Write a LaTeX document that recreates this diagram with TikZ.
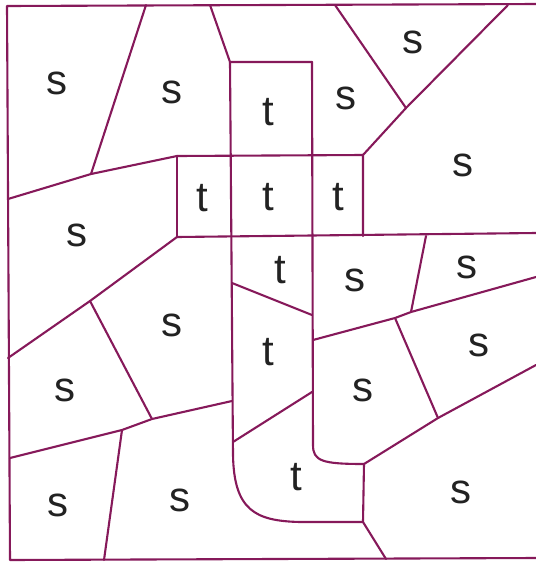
\documentclass[tikz,border=0pt]{standalone}
\usepackage{fontspec}
\setsansfont{Liberation Sans}
\definecolor{Bordo}{HTML}{86195A}
\definecolor{Testo}{HTML}{222222}
\tikzset{
    confine/.style={draw=Bordo, line width=2.1pt, line join=round, line cap=round},
    etichetta/.style={inner sep=0pt, text=Testo, font=\sffamily\fontsize{42}{48}\selectfont},
}
\begin{document}
\begin{tikzpicture}[x=1pt, y=-1pt]
    \useasboundingbox (0,0) rectangle (536,563);
    % Cornice
    \draw[confine] (537,4) -- (7,6) -- (10,560) -- (537,558);
    \draw[confine] (537,4) -- (537,558);

    % Colonna t
    \draw[confine] (210,5) -- (230,62) -- (312,62);
    \draw[confine] (230,62) -- (233,455) .. controls (234,510) and (255,521) .. (300,522) -- (363,522);
    \draw[confine] (312,62) -- (313,445) .. controls (313,461) and (322,464) .. (364,464);
    \draw[confine] (177,156) -- (363,155) -- (363,236);
    \draw[confine] (177,156) -- (177,237);
    \draw[confine] (177,237) -- (536,233);
    \draw[confine] (232,283) -- (312,315);
    \draw[confine] (233,442) -- (312,392);

    % Zone s a sinistra
    \draw[confine] (146,5) -- (91,174);
    \draw[confine] (8,199) -- (91,174) -- (177,156);
    \draw[confine] (177,237) -- (90,301) -- (8,358);
    \draw[confine] (90,301) -- (152,419);
    \draw[confine] (10,458) -- (122,430) -- (152,419) -- (232,401);
    \draw[confine] (122,430) -- (104,560);

    % Zone s a destra
    \draw[confine] (335,5) -- (406,108);
    \draw[confine] (508,5) -- (406,108) -- (363,155);
    \draw[confine] (313,340) -- (395,318) -- (411,312) -- (536,277);
    \draw[confine] (426,236) -- (411,312);
    \draw[confine] (395,318) -- (438,418);
    \draw[confine] (364,464) -- (438,418) -- (536,365);
    \draw[confine] (364,464) -- (363,522) -- (386,559);

    % Etichette
    \foreach \n/\x/\y/\l in {s1/57/83/s, s2/172/92/s, t1/268/112/t, s3/346/98/s, s4/413/42/s,
        s5/463/165/s, t2/202/198/t, t3/268/197/t, t4/338/197/t, s6/77/235/s,
        t5/280/270/t, s7/355/280/s, s8/467/267/s, s9/172/325/s, t6/268/352/t,
        s10/479/345/s, s11/65/390/s, s12/363/390/s, t7/296/477/t, s13/58/505/s,
        s14/180/500/s, s15/461/492/s} {
        \node[etichetta] (\n) at (\x,\y) {\l};
    }
\end{tikzpicture}
\end{document}
